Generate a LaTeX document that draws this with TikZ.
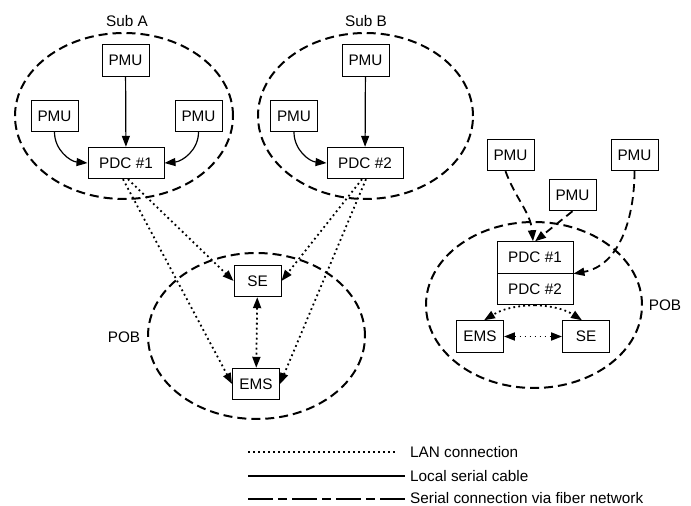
\documentclass[tikz,border=0pt]{standalone}
\usepackage{fontspec}
\setmainfont{Liberation Sans}
\usetikzlibrary{arrows.meta}

\tikzset{
  unit/.style={draw,line width=0.9pt,minimum width=47pt,minimum height=31.5pt,inner sep=0pt},
  pdc/.style={unit,minimum width=76pt},
  zone/.style={line width=2pt,dash pattern=on 9pt off 5pt},
  tip/.style={-{Triangle[length=11pt,width=8pt]}},
  twotips/.style={{Triangle[length=11pt,width=8pt]}-{Triangle[length=11pt,width=8pt]}},
  lan/.style={line width=1.8pt,dash pattern=on 1.8pt off 3.2pt},
  local/.style={line width=1.2pt},
  fiber/.style={line width=1.8pt,dash pattern=on 8pt off 5pt},
  key/.style={anchor=west,inner sep=1pt}
}

\begin{document}
\begin{tikzpicture}
  [x=1pt,y=1pt,every node/.style={font=\fontsize{15.3}{18}\selectfont}]
  \useasboundingbox (0,0) rectangle (691,506);

  % the zones
  \draw[zone] (124,390) ellipse [x radius=109,y radius=83];
  \draw[zone] (365.5,390) ellipse [x radius=107.5,y radius=83];
  \draw[zone] (256.5,170) ellipse [x radius=108.5,y radius=83];
  \draw[zone] (534,201) ellipse [x radius=108,y radius=83];
  \node (suba) at (127,485) {Sub A};
  \node (subb) at (366,485) {Sub B};
  \node (pobl) at (124,169) {POB};
  \node (pobr) at (665,201) {POB};

  % substation A
  \node[unit] (pa1) at (125.5,445.5) {PMU};
  \node[unit] (pa2) at (54.5,390) {PMU};
  \node[unit] (pa3) at (198.5,390) {PMU};
  \node[pdc] (pdca) at (126,343) {PDC \#1};

  % substation B
  \node[unit] (pb1) at (365.5,445.5) {PMU};
  \node[unit] (pb2) at (294,390) {PMU};
  \node[pdc] (pdcb) at (365,343) {PDC \#2};

  % control centre, left
  \node[unit] (sel) at (257.5,225) {SE};
  \node[unit] (emsl) at (256,122) {EMS};

  % control centre, right
  \node[unit] (pr1) at (510.5,351) {PMU};
  \node[unit] (pr2) at (572.5,311) {PMU};
  \node[unit] (pr3) at (634.5,351) {PMU};
  \node[pdc] (pdcr1) at (535,248.5) {PDC \#1};
  \node[pdc] (pdcr2) at (535,217) {PDC \#2};
  \node[unit] (emsr) at (480,169.5) {EMS};
  \node[unit] (ser) at (586,169.5) {SE};

  % local serial cables
  \foreach \from/\to in {pa1/pdca,pb1/pdcb}
    \draw[local,tip] (\from) -- (\to);
  \draw[local,tip] (pa2.south) to[out=-90,in=175] (pdca.west);
  \draw[local,tip] (pa3.south) to[out=-90,in=5] (pdca.east);
  \draw[local,tip] (pb2.south) to[out=-90,in=175] (pdcb.west);

  % LAN
  \draw[lan,tip] ([xshift=2pt]pdca.south) -- (sel.west);
  \draw[lan,tip] ([xshift=-3pt]pdca.south) -- (emsl.west);
  \draw[lan,tip] ([xshift=-3pt]pdcb.south) -- (sel.east);
  \draw[lan,tip] ([xshift=1pt]pdcb.south) -- (emsl.east);
  \draw[lan,twotips] (sel) -- (emsl);
  \draw[lan,tip] (pdcr2.south) to[bend right=15] ([xshift=4pt]emsr.north);
  \draw[lan,tip] (pdcr2.south) to[bend left=15] ([xshift=-4pt]ser.north);
  \draw[lan,twotips] (emsr) -- (ser);

  % fiber links
  \draw[fiber,tip] ([xshift=-5pt]pr1.south) to[out=-70,in=95] ([xshift=-2pt]pdcr1.north);
  \draw[fiber,tip] (pr2.south) -- (pdcr1.north);
  \draw[fiber,tip] (pr3.south) to[out=-90,in=10] (pdcr1.south east);

  % legend
  \coordinate (la) at (248,54);
  \coordinate (lb) at (397,54);
  \coordinate (sa) at (248,30);
  \coordinate (sb) at (405,30);
  \coordinate (fa) at (248,7);
  \coordinate (fb) at (405,7);
  \draw[lan] (la) -- (lb);
  \draw[local] (sa) -- (sb);
  \draw[line width=1.8pt,dash pattern=on 25pt off 5pt on 9pt off 5pt] (fa) -- (fb);
  \node[key] (lant) at (409,54) {LAN connection};
  \node[key] (loct) at (409,30) {Local serial cable};
  \node[key] (fibt) at (409,8) {Serial connection via fiber network};
\end{tikzpicture}
\end{document}
